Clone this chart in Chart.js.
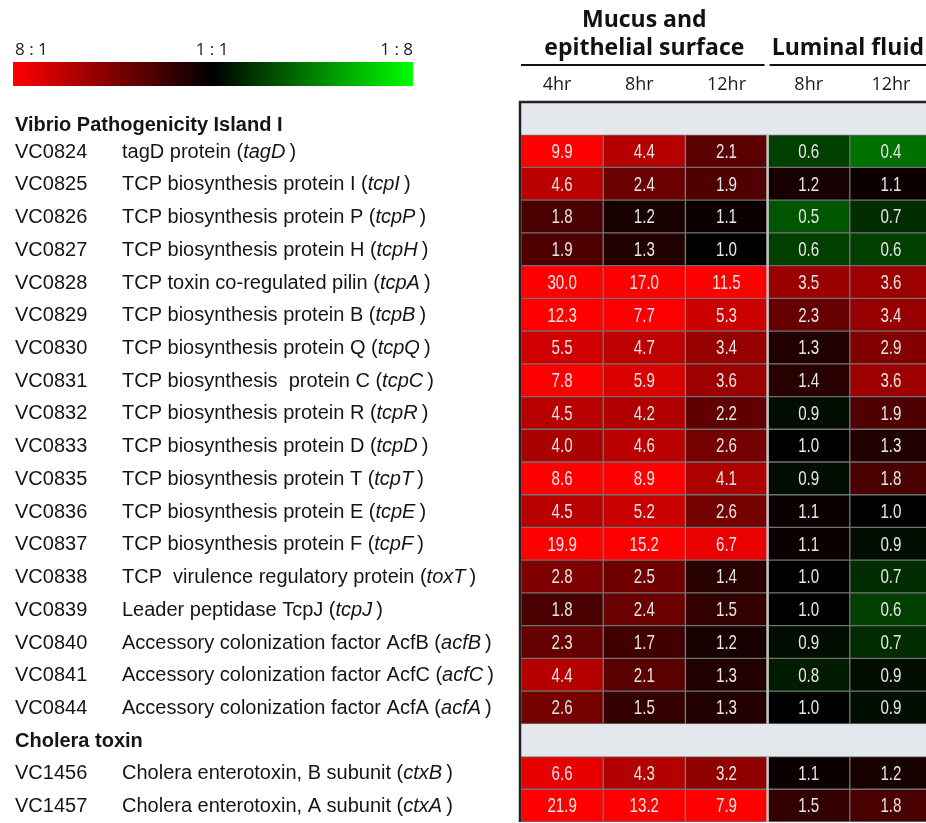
<!DOCTYPE html>
<html>
<head>
<meta charset="utf-8">
<script src="https://cdn.jsdelivr.net/npm/chart.js@4.4.1/dist/chart.umd.min.js"></script>
<style>
html,body{margin:0;padding:0;background:#ffffff;overflow:hidden}
canvas{display:block}
</style>
</head>
<body>
<canvas id="c" width="926" height="823"></canvas>
<script>
// ---------------- DATA ----------------
const groupNames = ["Vibrio Pathogenicity Island I", "Cholera toxin"];
const geneIds = ["VC0824","VC0825","VC0826","VC0827","VC0828","VC0829","VC0830","VC0831","VC0832","VC0833",
                 "VC0835","VC0836","VC0837","VC0838","VC0839","VC0840","VC0841","VC0844","VC1456","VC1457"];
const geneDescriptions = ["tagD protein","TCP biosynthesis protein I","TCP biosynthesis protein P","TCP biosynthesis protein H",
  "TCP toxin co-regulated pilin","TCP biosynthesis protein B","TCP biosynthesis protein Q","TCP biosynthesis  protein C",
  "TCP biosynthesis protein R","TCP biosynthesis protein D","TCP biosynthesis protein T","TCP biosynthesis protein E",
  "TCP biosynthesis protein F","TCP  virulence regulatory protein","Leader peptidase TcpJ",
  "Accessory colonization factor AcfB","Accessory colonization factor AcfC","Accessory colonization factor AcfA",
  "Cholera enterotoxin, B subunit","Cholera enterotoxin, A subunit"];
const geneSymbols = ["tagD","tcpI","tcpP","tcpH","tcpA","tcpB","tcpQ","tcpC","tcpR","tcpD","tcpT","tcpE","tcpF",
  "toxT","tcpJ","acfB","acfC","acfA","ctxB","ctxA"];
const geneGroup = [0,0,0,0,0,0,0,0,0,0,0,0,0,0,0,0,0,0,1,1];

const conditionNames = [["Mucus and","epithelial surface"],["Luminal fluid"]];
const timeLabels = ["4hr","8hr","12hr","8hr","12hr"];
const colorScaleLabels = ["8 : 1","1 : 1","1 : 8"];

const mucus4hr   = [9.9,4.6,1.8,1.9,30.0,12.3,5.5,7.8,4.5,4.0,8.6,4.5,19.9,2.8,1.8,2.3,4.4,2.6,6.6,21.9];
const mucus8hr   = [4.4,2.4,1.2,1.3,17.0,7.7,4.7,5.9,4.2,4.6,8.9,5.2,15.2,2.5,2.4,1.7,2.1,1.5,4.3,13.2];
const mucus12hr  = [2.1,1.9,1.1,1.0,11.5,5.3,3.4,3.6,2.2,2.6,4.1,2.6,6.7,1.4,1.5,1.2,1.3,1.3,3.2,7.9];
const luminal8hr = [0.6,1.2,0.5,0.6,3.5,2.3,1.3,1.4,0.9,1.0,0.9,1.1,1.1,1.0,1.0,0.9,0.8,1.0,1.1,1.5];
const luminal12hr= [0.4,1.1,0.7,0.6,3.6,3.4,2.9,3.6,1.9,1.3,1.8,1.0,0.9,0.7,0.6,0.7,0.9,0.9,1.2,1.8];
const seriesValues = [mucus4hr, mucus8hr, mucus12hr, luminal8hr, luminal12hr];

// ---------------- BUILD ROWS ----------------
const rows = [];
groupNames.forEach((g, gi) => {
  rows.push({type:'group', name:g, gi});
  geneIds.forEach((id, i) => { if (geneGroup[i] === gi) rows.push({type:'gene', i}); });
});
const rowKeys = rows.map(r => r.type === 'group' ? 'G:' + r.name : geneIds[r.i]);

function ratioColor(v) {
  let t = Math.log2(v) / 3;
  t = Math.max(-1, Math.min(1, t));
  if (t >= 0) return `rgb(${Math.round(255*t)},0,0)`;
  return `rgb(0,${Math.round(255*-t)},0)`;
}

const datasets = seriesValues.map((vals, c) => ({
  label: timeLabels[c],
  data: rows.map(r => r.type === 'gene' ? [c, c + 1] : null),
  backgroundColor: rows.map(r => r.type === 'gene' ? ratioColor(vals[r.i]) : 'rgba(0,0,0,0)'),
  borderColor: '#727272',
  borderWidth: 1,
  borderSkipped: false,
  grouped: false,
  barPercentage: 1,
  categoryPercentage: 1
}));
datasets.push({
  label: 'groups',
  data: rows.map(r => r.type === 'group' ? [0, seriesValues.length + 1] : null),
  backgroundColor: '#e4e8ec',
  borderWidth: 0,
  grouped: false,
  barPercentage: 1,
  categoryPercentage: 1
});

const FONT = '"Liberation Sans", Arial, sans-serif';
const HFONT = '"Open Sans", "Liberation Sans", sans-serif';

const decor = {
  id: 'decor',
  beforeDraw(chart) {
    const ctx = chart.ctx;
    ctx.save();
    ctx.fillStyle = '#ffffff';
    ctx.fillRect(0, 0, chart.width, chart.height);
    ctx.restore();
  },
  afterDatasetsDraw(chart) {
    const ctx = chart.ctx;
    const xs = chart.scales.x, ys = chart.scales.y, ca = chart.chartArea;
    ctx.save();

    // cell value text
    seriesValues.forEach((vals, c) => {
      const meta = chart.getDatasetMeta(c);
      meta.data.forEach((el, j) => {
        const r = rows[j];
        if (r.type !== 'gene') return;
        const cx = (el.x + el.base) / 2;
        ctx.save();
        ctx.translate(cx, el.y);
        ctx.scale(0.72, 1);
        ctx.font = '21px ' + FONT;
        ctx.fillStyle = '#e6e6e6';
        ctx.textAlign = 'center';
        ctx.textBaseline = 'middle';
        ctx.fillText(vals[r.i].toFixed(1), 0, 1);
        ctx.restore();
      });
    });

    // separator between the two conditions
    const sepX = xs.getPixelForValue(3);
    ctx.strokeStyle = '#c4c4c4';
    ctx.lineWidth = 2.5;
    rows.forEach((r, j) => {
      if (r.type !== 'gene') return;
      const yc = ys.getPixelForValue(j);
      const h = ys.getPixelForValue(1) - ys.getPixelForValue(0);
      ctx.beginPath();
      ctx.moveTo(sepX, yc - h / 2);
      ctx.lineTo(sepX, yc + h / 2);
      ctx.stroke();
    });

    // frame lines (left + top)
    ctx.strokeStyle = '#222';
    ctx.lineWidth = 2.5;
    ctx.beginPath();
    ctx.moveTo(ca.left - 1, ca.bottom);
    ctx.lineTo(ca.left - 1, ca.top);
    ctx.lineTo(ca.right, ca.top);
    ctx.stroke();

    // row labels
    ctx.textBaseline = 'middle';
    ctx.textAlign = 'left';
    ctx.fillStyle = '#151515';
    rows.forEach((r, j) => {
      const y = ys.getPixelForValue(j) + 1;
      if (r.type === 'group') {
        ctx.font = 'bold 20px ' + FONT;
        ctx.fillText(r.name, 15, y + (r.gi === 0 ? 6 : 0));
      } else {
        ctx.font = '20px ' + FONT;
        ctx.fillText(geneIds[r.i], 15, y);
        let x = 122;
        const pre = geneDescriptions[r.i] + ' (';
        ctx.fillText(pre, x, y);
        x += ctx.measureText(pre).width;
        ctx.font = 'italic 20px ' + FONT;
        ctx.fillText(geneSymbols[r.i], x, y);
        x += ctx.measureText(geneSymbols[r.i]).width;
        ctx.font = '20px ' + FONT;
        ctx.fillText('\u2009)', x, y);
      }
    });

    // condition headers
    ctx.fillStyle = '#111';
    ctx.textAlign = 'center';
    ctx.textBaseline = 'alphabetic';
    ctx.font = 'bold 23px ' + HFONT;
    const c1 = xs.getPixelForValue(1.5);
    ctx.fillText(conditionNames[0][0], c1, 27);
    ctx.fillText(conditionNames[0][1], c1, 55);
    const c2 = (xs.getPixelForValue(3) + 926) / 2 + 1;
    ctx.fillText(conditionNames[1][0], c2, 55);

    // header underlines
    ctx.strokeStyle = '#111';
    ctx.lineWidth = 2;
    ctx.beginPath();
    ctx.moveTo(xs.getPixelForValue(0), 65);
    ctx.lineTo(xs.getPixelForValue(3) - 3, 65);
    ctx.moveTo(xs.getPixelForValue(3) + 2, 65);
    ctx.lineTo(926, 65);
    ctx.stroke();

    // time labels
    ctx.font = '18px ' + HFONT;
    ctx.fillStyle = '#1a1a1a';
    timeLabels.forEach((t, c) => {
      ctx.fillText(t, xs.getPixelForValue(c + 0.5) - (c < 2 ? 5 : 0), 90);
    });

    // colour scale legend
    const gx0 = 13, gx1 = 413, gy0 = 62, gy1 = 86;
    const grad = ctx.createLinearGradient(gx0, 0, gx1, 0);
    grad.addColorStop(0, 'rgb(255,0,0)');
    grad.addColorStop(0.5, 'rgb(0,0,0)');
    grad.addColorStop(1, 'rgb(0,255,0)');
    ctx.fillStyle = grad;
    ctx.fillRect(gx0, gy0, gx1 - gx0, gy1 - gy0);
    ctx.font = '17px ' + HFONT;
    ctx.fillStyle = '#222';
    ctx.textAlign = 'left';
    ctx.fillText(colorScaleLabels[0], 15, 55);
    ctx.textAlign = 'center';
    ctx.fillText(colorScaleLabels[1], 212, 55);
    ctx.textAlign = 'right';
    ctx.fillText(colorScaleLabels[2], 413, 55);

    ctx.restore();
  }
};

new Chart(document.getElementById('c'), {
  type: 'bar',
  data: { labels: rowKeys, datasets },
  options: {
    indexAxis: 'y',
    responsive: false,
    animation: false,
    devicePixelRatio: 1,
    layout: { padding: { left: 521, top: 102, right: 0, bottom: 1 } },
    plugins: { legend: { display: false }, tooltip: { enabled: false } },
    scales: {
      x: { type: 'linear', min: 0, max: 405 / 82.2, display: false },
      y: { type: 'category', display: false, offset: true }
    }
  },
  plugins: [decor]
});
</script>
</body>
</html>
